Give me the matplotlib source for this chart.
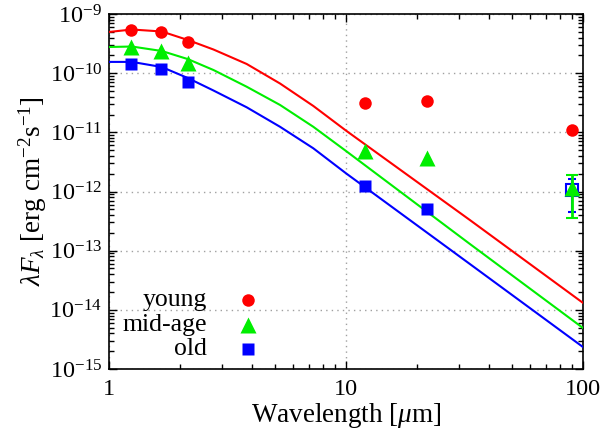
import numpy as np
import matplotlib
matplotlib.use("Agg")
import matplotlib.pyplot as plt
from matplotlib.ticker import FixedLocator, LogLocator, FuncFormatter, NullFormatter

plt.rcParams['font.family'] = ['Liberation Serif', 'DejaVu Serif']
plt.rcParams['mathtext.fontset'] = 'custom'
plt.rcParams['mathtext.rm'] = 'Liberation Serif'
plt.rcParams['mathtext.it'] = 'Liberation Serif:italic'

# photometric points (micron, erg cm^-2 s^-1)
wave_pts = [1.235, 1.662, 2.159, 12.0, 22.0, 90.0]
young_pts = [5.37e-10, 4.97e-10, 3.33e-10, 3.13e-11, 3.39e-11, 1.1e-11]
mid_pts = [2.77e-10, 2.40e-10, 1.47e-10, 4.9e-12, 3.7e-12]
old_pts = [1.43e-10, 1.16e-10, 7.0e-11, 1.26e-12, 5.0e-13]

# 90 micron points with error bars
mid_90, mid_90_lo, mid_90_hi = 1.15e-12, 3.5e-13, 1.9e-12
old_90, old_90_lo, old_90_hi = 1.07e-12, 4.5e-13, 1.6e-12

# model curves
wave_curve = [1.0, 1.25, 1.67, 2.15, 2.76, 3.81, 5.27, 7.28, 10.0, 33.3, 100.0]
young_curve = [4.97e-10, 5.47e-10, 5.06e-10, 3.64e-10, 2.51e-10, 1.43e-10,
               6.68e-11, 2.79e-11, 1.07e-11, 3.30e-13, 1.31e-14]
mid_curve = [2.77e-10, 2.82e-10, 2.37e-10, 1.73e-10, 1.13e-10, 5.90e-11,
             2.90e-11, 1.24e-11, 4.84e-12, 1.30e-13, 4.93e-15]
old_curve = [1.55e-10, 1.55e-10, 1.27e-10, 8.28e-11, 5.09e-11, 2.65e-11,
             1.24e-11, 5.37e-12, 2.03e-12, 5.96e-14, 2.35e-15]

x_ticks = [1, 10, 100]
y_ticks = [1e-15, 1e-14, 1e-13, 1e-12, 1e-11, 1e-10, 1e-9]

RED, GREEN, BLUE = '#ff0000', '#00ee00', '#0000ff'

fig = plt.figure(figsize=(6.07, 4.34), dpi=100)
ax = fig.add_axes([109 / 607, 1 - 369 / 434, (583 - 109) / 607, (369 - 14) / 434])

ax.plot(wave_curve, young_curve, color=RED, lw=1.5, zorder=3)
ax.plot(wave_curve, mid_curve, color=GREEN, lw=1.5, zorder=3)
ax.plot(wave_curve, old_curve, color=BLUE, lw=1.5, zorder=3)

ax.plot(wave_pts, young_pts, 'o', color=RED, ms=9, mec='none', zorder=4)
ax.plot(wave_pts[:5], mid_pts, '^', color=GREEN, ms=11, mec='none', zorder=4)
ax.plot(wave_pts[:5], old_pts, 's', color=BLUE, ms=9, mec='none', zorder=4)

ax.errorbar([90.0], [old_90], yerr=[[old_90 - old_90_lo], [old_90_hi - old_90]],
            fmt='s', color=BLUE, mfc='white', mec=BLUE, mew=1.5, ms=9,
            capsize=3, elinewidth=1.5, zorder=5)
ax.errorbar([90.0], [mid_90], yerr=[[mid_90 - mid_90_lo], [mid_90_hi - mid_90]],
            fmt='^', color=GREEN, mec='none', ms=11,
            capsize=4, elinewidth=2, capthick=1.5, zorder=6)

ax.set_xscale('log')
ax.set_yscale('log')
ax.set_xlim(1, 100)
ax.set_ylim(1e-15, 1e-9)

ax.xaxis.set_major_locator(FixedLocator(x_ticks))
ax.yaxis.set_major_locator(FixedLocator(y_ticks))
ax.yaxis.set_minor_locator(LogLocator(base=10, subs=np.arange(2, 10), numticks=20))
ax.yaxis.set_major_formatter(FuncFormatter(lambda v, p: r'$10^{%d}$' % int(round(np.log10(v)))))
ax.yaxis.set_minor_formatter(NullFormatter())
ax.xaxis.set_major_formatter(FuncFormatter(lambda v, p: '%d' % int(round(v))))
ax.xaxis.set_minor_formatter(NullFormatter())

ax.tick_params(which='both', direction='in', top=True, right=True, labelsize=17.5)
ax.tick_params(which='major', length=6, width=1)
ax.tick_params(which='minor', length=3.5, width=1)
ax.tick_params(axis='x', pad=7)
ax.tick_params(axis='y', pad=5)
for s in ax.spines.values():
    s.set_linewidth(1.2)

ax.grid(True, which='major', color='#a0a0a0', linestyle=(0, (1, 3)), linewidth=1)

ax.set_xlabel(r'Wavelength [$\mu$m]', fontsize=19.5, labelpad=1)
ax.set_ylabel(r'$\lambda F_\lambda$ [erg cm$^{-2}$s$^{-1}$]', fontsize=19.5, labelpad=0)

# legend drawn by hand in gnuplot style: text right aligned, symbol to the right
leg_labels = ['young', 'mid-age', 'old']
leg_markers = [('o', RED, 9), ('^', GREEN, 11), ('s', BLUE, 9)]
for i, (lab, (mk, col, ms)) in enumerate(zip(leg_labels, leg_markers)):
    yf = 0.194 - i * 0.069
    ax.text(0.207, yf, lab, transform=ax.transAxes, ha='right', va='center', fontsize=18.5)
    ax.plot([0.293], [yf], mk, color=col, ms=ms, mec='none', transform=ax.transAxes,
            clip_on=False, zorder=6)

fig.savefig('out.png', dpi=100)
